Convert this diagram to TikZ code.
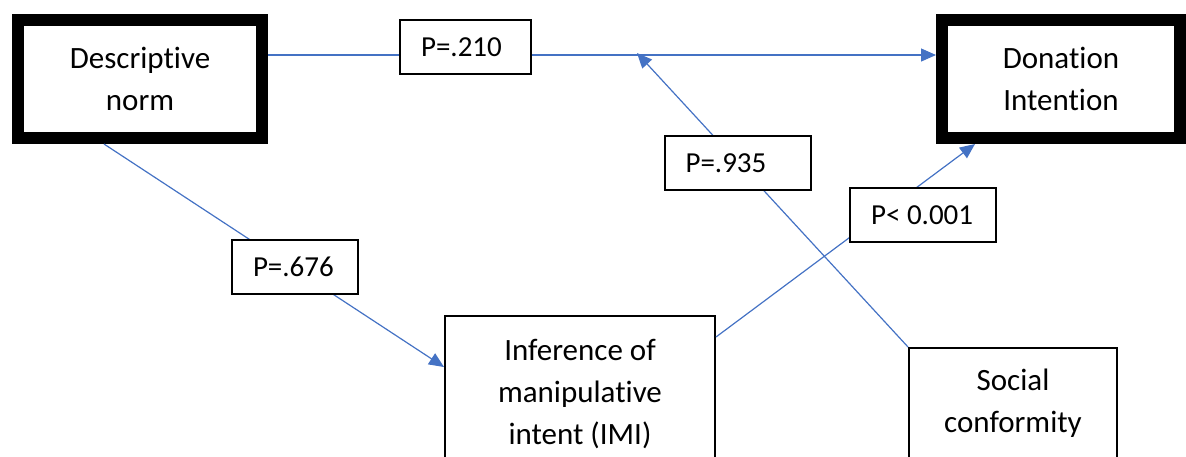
\documentclass[tikz,border=0pt]{standalone}
\usepackage{fontspec}
\setmainfont{Carlito}[Ligatures=NoCommon]
\usetikzlibrary{arrows.meta}
\definecolor{linkblue}{RGB}{68,114,196}
\begin{document}
\begin{tikzpicture}[x=0.5pt,y=-0.5pt]%[every node/.style={draw}]
			\tikzstyle{bigbox}=[draw,line width=6pt,align=center,minimum width=122pt,minimum height=59pt,font=\fontsize{15.5}{21}\selectfont]
			\tikzstyle{varbox}=[draw,line width=1pt,align=center,font=\fontsize{15.5}{21}\selectfont]
			\tikzstyle{plabel}=[draw,fill=white,line width=1pt,inner xsep=10.5pt,minimum height=27pt,font=\fontsize{14.5}{18}\selectfont]
			\tikzstyle{link}=[draw=linkblue,line width=0.6pt]
			\tikzstyle{arr}=[link,-{Triangle[length=7.5pt,width=6.5pt]},linkblue]
			\useasboundingbox (0,0) rectangle (1186,456);
			% variables
			\node[bigbox] (dn) at (140,79) {Descriptive\\norm};
			\node[bigbox,minimum width=119pt] (di) at (1061,79) {Donation\\Intention};
			\node[varbox,minimum width=135pt,minimum height=78pt] (imi) at (580,394) {Inference of\\manipulative\\intent (IMI)};
			\node[varbox,minimum width=104pt,minimum height=74pt] (sc) at (1013,422) {Social\\conformity\\~};
			\coordinate (hit) at (637,53);
			% paths
			\draw[arr] ([yshift=12pt]dn.east) -- ([yshift=12pt]di.west);
			\draw[arr] ([xshift=-18pt]dn.south) -- ([yshift=13.5pt]imi.west);
			\draw[arr] ([yshift=28.5pt]imi.east) -- ([xshift=-43pt]di.south);
			\draw[arr] (sc.north west) -- (hit);
			% p values
			\foreach \n/\x/\y/\w/\t in {p210/465.5/47/44.5pt/{P=.210},p935/737.5/163/52pt/{P=.935},p001/923/215/52pt/{P< 0.001},p676/295/267/42pt/{P=.676}}
			{
				\node[plabel] (\n) at (\x,\y) {\makebox[\w][l]{\t}};
			}
\end{tikzpicture}
\end{document}
